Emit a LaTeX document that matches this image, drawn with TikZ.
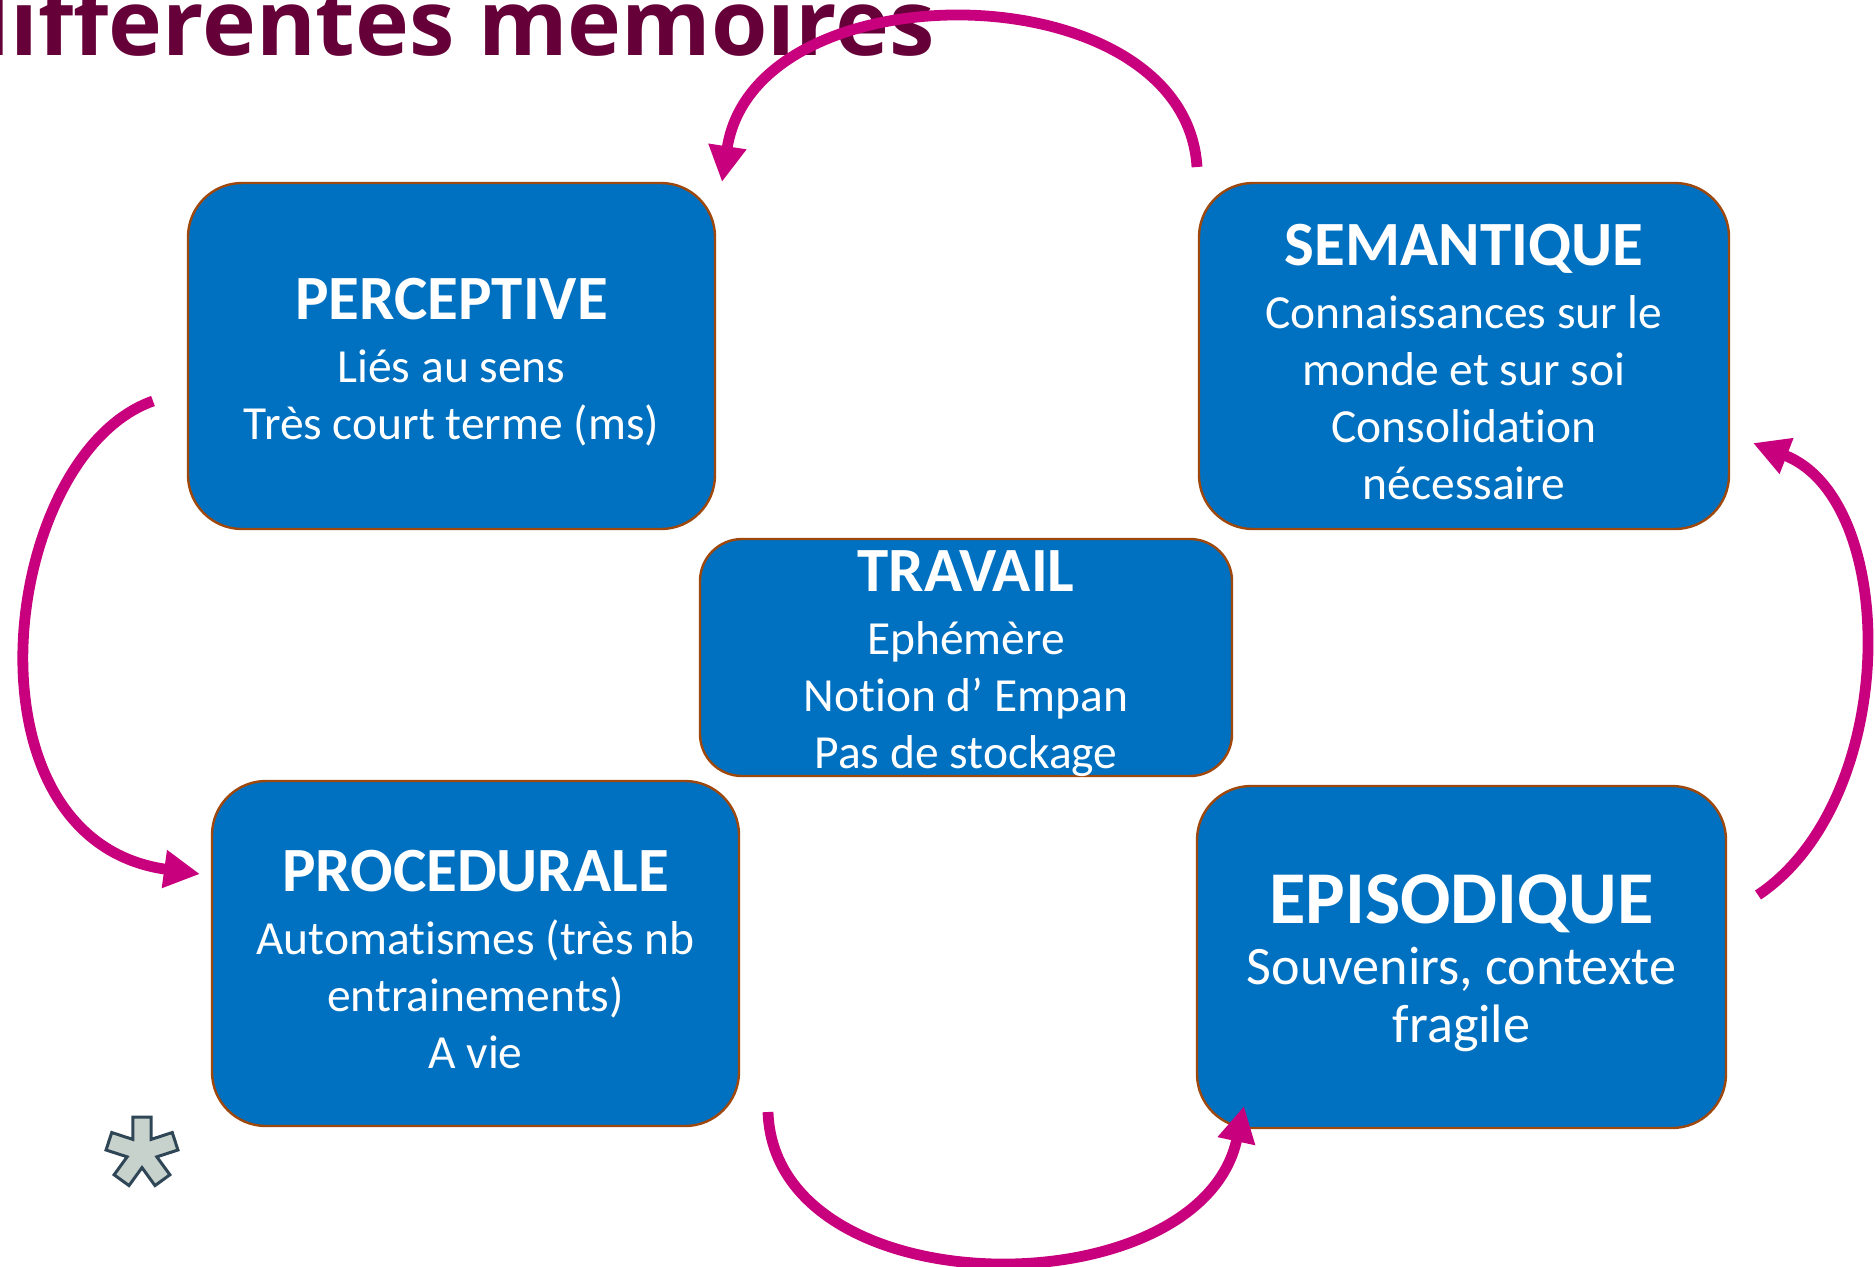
\documentclass[tikz,border=0pt]{standalone}
\usepackage{fontspec}
\setmainfont{Carlito}[Ligatures=NoCommon]
\newfontfamily\headfont{Open Sans}[Ligatures=NoCommon]
\usetikzlibrary{arrows.meta}
\definecolor{boxblue}{RGB}{0,112,192}
\definecolor{boxedge}{RGB}{158,72,14}
\definecolor{arrowmag}{RGB}{200,0,125}
\definecolor{titlecol}{RGB}{102,0,56}
\definecolor{astfill}{RGB}{200,210,204}
\definecolor{astedge}{RGB}{47,70,86}
\newcommand\boxtitle[1]{{\fontsize{31.5}{34}\selectfont\bfseries #1}}
\begin{document}
\begin{tikzpicture}[x=0.5pt,y=-0.5pt,
  membox/.style={draw=boxedge, line width=1.2pt, fill=boxblue,
    inner sep=0pt, rounded corners=27pt,
    minimum width=264pt, minimum height=173pt},
  boxtext/.style={text=white, align=center, inner sep=0pt,
    font=\fontsize{23.75}{28.5}\selectfont},
  cyclearrow/.style={draw=arrowmag, line width=5.4pt,
    -{Triangle[length=18pt,width=18pt]}}]
\useasboundingbox (0,0) rectangle (1875,1266);
\clip (0,0) rectangle (1875,1266);

\node[anchor=base east, text=titlecol, inner sep=0pt,
  font=\headfont\fontsize{45.6}{50}\selectfont\bfseries] (title) at (935,55) {différentes mémoires};

\node[membox, minimum width=263.5pt] (perc) at (451.5,356) {};
\node[boxtext] (perc-t) at ([yshift=-3pt]perc.center)
  {\boxtitle{PERCEPTIVE}\\[3pt] Liés au sens\\ Très court terme (ms)};
\node[membox, minimum width=265pt] (sem) at (1464,356) {};
\node[boxtext] (sem-t) at ([yshift=-3pt]sem.center)
  {\boxtitle{SEMANTIQUE}\\[3pt] Connaissances sur le\\ monde et sur soi\\ Consolidation\\ nécessaire};
\node[membox, minimum width=266pt, minimum height=118.5pt, rounded corners=21pt] (trav) at (966,657.5) {};
\node[boxtext] (trav-t) at ([yshift=-3pt]trav.center)
  {\boxtitle{TRAVAIL}\\[3pt] Ephémère\\ Notion d’ Empan\\ Pas de stockage};
\node[membox, minimum width=263.5pt, minimum height=172.5pt] (proc) at (475.5,953.5) {};
\node[boxtext] (proc-t) at ([yshift=-3pt]proc.center)
  {\boxtitle{PROCEDURALE}\\[3pt] Automatismes (très nb\\ entrainements)\\ A vie};
\node[membox, minimum width=264.5pt, minimum height=171pt] (epi) at (1461.5,957) {};
\node[boxtext, font=\fontsize{27.1}{28.7}\selectfont] (epi-t) at ([yshift=-3pt]epi.center)
  {{\fontsize{37.25}{40}\selectfont\bfseries EPISODIQUE}\\[2pt] Souvenirs, contexte\\ fragile};

\coordinate (a1s) at (1197,167);
\coordinate (a1e) at (722,182);
\coordinate (a2s) at (153,401);
\coordinate (a2e) at (200,874);
\coordinate (a3s) at (768,1112);
\coordinate (a3e) at (1244,1106);
\coordinate (a4s) at (1758,895);
\coordinate (a4e) at (1753,443);

\draw[cyclearrow] (a1s) .. controls (1185,-30) and (755,-35) .. (a1e);
\draw[cyclearrow] (a2s) .. controls (0,455) and (-45,840) .. (a2e);
\draw[cyclearrow] (a3s) .. controls (775,1310) and (1200,1310) .. (a3e);
\draw[cyclearrow] (a4s) .. controls (1900,800) and (1900,500) .. (a4e);

\begin{scope}[shift={(142,1152)}, yscale=-1]
\draw[draw=astedge, fill=astfill, line width=1.5pt]
  (75.2:36) \foreach \k in {0,...,4} { -- ({90+72*\k-14.8}:36) -- ({90+72*\k+14.8}:36) -- ({90+72*\k+36}:15.6) } -- cycle;
\end{scope}
\end{tikzpicture}
\end{document}
